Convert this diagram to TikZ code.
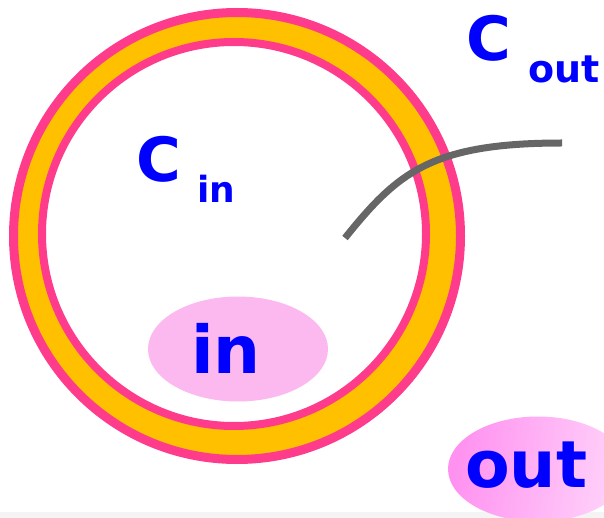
\documentclass[tikz,border=0pt]{standalone}
\usepackage{fontspec}
\setmainfont{DejaVu Sans}
\definecolor{ringpink}{RGB}{255,60,140}
\definecolor{ringyellow}{RGB}{255,192,0}
\definecolor{labelblue}{RGB}{0,0,255}
\definecolor{blobpink}{RGB}{251,185,240}
\definecolor{blobdeep}{RGB}{255,145,240}
\definecolor{bloblight}{RGB}{255,212,250}
\definecolor{wiregray}{RGB}{102,102,102}
\definecolor{stripgray}{RGB}{244,244,244}
\tikzset{
  lbl/.style={inner sep=0pt, text=labelblue, font=\bfseries, anchor=base west},
  blob/.style={ellipse, draw=none, inner sep=0pt},
}
\usetikzlibrary{shapes.geometric}
\begin{document}
\begin{tikzpicture}[x=1pt,y=-1pt]
\useasboundingbox (0,0) rectangle (604,518);
\clip (0,0) rectangle (604,518);
\fill[stripgray] (0,512) rectangle (604,518);
% membrane
\draw[draw=ringpink, fill=ringyellow, line width=9pt] (237,236) circle[radius=223.5];
\draw[draw=ringpink, fill=white, line width=8pt] (234,234) circle[radius=192];
% wire
\coordinate (w1) at (345,238);
\coordinate (w2) at (562,143);
\draw[wiregray, line width=7pt] (w1) .. controls (398,172) and (432,143) .. (w2);
% blobs
\node[blob, fill=blobpink, minimum width=180pt, minimum height=105pt] (inblob) at (238,349) {};
\node[blob, left color=blobdeep, right color=bloblight, shading angle=80, minimum width=180pt, minimum height=105pt] (outblob) at (538,469) {};
% labels
\node[lbl, font=\bfseries\fontsize{61}{61}\selectfont] (cin) at (136,182) {C};
\node[lbl, font=\bfseries\fontsize{36}{36}\selectfont] (cinsub) at (197,203) {in};
\node[lbl, font=\bfseries\fontsize{61}{61}\selectfont] (cout) at (466,61) {C};
\node[lbl, font=\bfseries\fontsize{38}{38}\selectfont] (coutsub) at (528,83) {out};
\node[lbl, font=\bfseries\fontsize{66}{66}\selectfont] (intext) at (191,373) {in};
\node[lbl, font=\bfseries\fontsize{65}{65}\selectfont] (outtext) at (465,487) {out};
\end{tikzpicture}
\end{document}
